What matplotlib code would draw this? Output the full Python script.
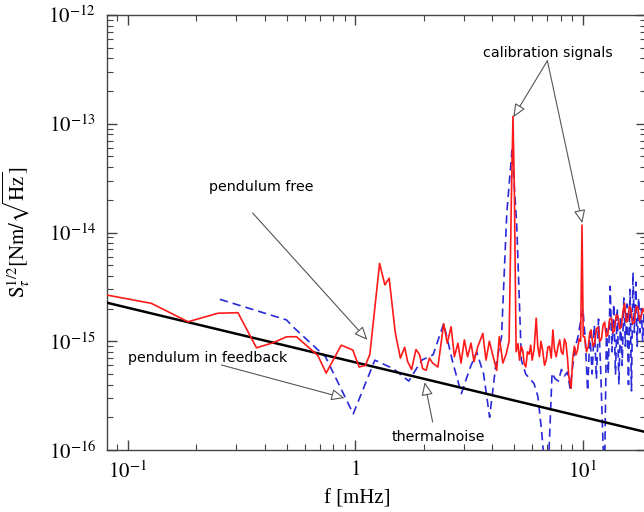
import numpy as np
import matplotlib
matplotlib.use("Agg")
import matplotlib.pyplot as plt
from matplotlib.ticker import LogLocator, NullFormatter

# pendulum free (red, solid)
red_f = [0.081, 0.127, 0.184, 0.249, 0.305, 0.368, 0.436, 0.499, 0.552, 0.685,
         0.745, 0.868, 0.976, 1.04, 1.11, 1.16, 1.28, 1.35, 1.41, 1.50,
         1.58, 1.65, 1.70, 1.77, 1.85, 1.92, 1.98, 2.05, 2.12, 2.19,
         2.31, 2.45, 2.54, 2.64, 2.73, 2.83, 2.92, 3.02, 3.12, 3.23,
         3.33, 3.46, 3.64, 3.76, 3.89, 4.03, 4.19, 4.30, 4.46, 4.61,
         4.75, 4.86, 4.94, 5.01, 5.10, 5.20, 5.28, 5.37, 5.45, 5.54,
         5.63, 5.72, 5.82, 5.91, 6.00, 6.12, 6.25, 6.35, 6.46, 6.56,
         6.67, 6.80, 6.92, 7.03, 7.15, 7.28, 7.40, 7.52, 7.65, 7.80,
         7.93, 8.06, 8.20, 8.32, 8.45, 8.58, 8.70, 8.90, 9.05, 9.20,
         9.35, 9.50, 9.65, 9.80, 9.94, 10.06, 10.2, 10.4, 10.6, 10.75,
         10.9, 11.1, 11.3, 11.5, 11.7, 11.9, 12.1, 12.3, 12.5, 12.7,
         12.9, 13.15, 13.4, 13.6, 13.8, 14.05, 14.3, 14.55, 14.8, 15.05,
         15.3, 15.55, 15.8, 16.05, 16.3, 16.6, 16.9, 17.2, 17.5, 17.8,
         18.1, 18.4, 18.7, 19.0]
red_s = [2.66e-15, 2.23e-15, 1.51e-15, 1.81e-15, 1.83e-15, 8.7e-16, 9.7e-16, 1.10e-15, 1.10e-15, 7.4e-16,
         5.1e-16, 9.2e-16, 8.3e-16, 5.8e-16, 6.0e-16, 7.6e-16, 5.2e-15, 3.3e-15, 3.8e-15, 1.2e-15,
         7.0e-16, 8.8e-16, 6.5e-16, 5.5e-16, 8.4e-16, 7.5e-16, 5.6e-16, 5.4e-16, 7.0e-16, 6.3e-16,
         5.8e-16, 1.45e-15, 9.6e-16, 1.36e-15, 7.2e-16, 9.6e-16, 6.3e-16, 1.03e-15, 7.2e-16, 9.6e-16,
         6.5e-16, 8.9e-16, 1.18e-15, 6.7e-16, 1.0e-15, 7.4e-16, 5.4e-16, 1.10e-15, 6.3e-16, 7.6e-16,
         1.0e-15, 2.0e-14, 1.17e-13, 2.5e-14, 8.0e-16, 9.5e-16, 6.7e-16, 9.0e-16, 8.3e-16, 6.2e-16,
         5.8e-16, 8.0e-16, 7.6e-16, 9.2e-16, 6.7e-16, 8.5e-16, 1.63e-15, 9.0e-16, 7.2e-16, 1.0e-15,
         8.3e-16, 6.0e-16, 6.7e-16, 8.8e-16, 9.0e-16, 7.0e-16, 1.27e-15, 8.5e-16, 7.2e-16, 9.0e-16,
         1.03e-15, 8.0e-16, 7.6e-16, 1.05e-15, 9.6e-16, 7.0e-16, 4.7e-16, 3.7e-16, 7.0e-16, 9.0e-16,
         7.5e-16, 8.3e-16, 1.05e-15, 1.0e-15, 1.17e-14, 1.1e-15, 1.1e-15, 8.0e-16, 9.0e-16, 1.2e-15,
         1.27e-15, 9.0e-16, 9.6e-16, 1.3e-15, 1.35e-15, 1.0e-15, 1.05e-15, 1.4e-15, 1.5e-15, 1.1e-15,
         1.15e-15, 1.6e-15, 1.63e-15, 1.2e-15, 1.25e-15, 1.75e-15, 1.7e-15, 1.3e-15, 1.35e-15, 1.9e-15,
         2.23e-15, 1.5e-15, 1.55e-15, 2.1e-15, 2.0e-15, 1.45e-15, 1.5e-15, 2.1e-15, 2.05e-15, 1.55e-15,
         1.7e-15, 2.0e-15, 1.85e-15, 1.9e-15]

# pendulum in feedback (blue, dashed)
blue_f = [0.254, 0.499, 0.532, 0.74, 0.98, 1.22, 1.47, 1.72, 1.96, 2.20,
          2.45, 2.69, 2.93, 3.18, 3.42, 3.67, 3.90, 4.15, 4.40, 4.64,
          4.89, 5.13, 5.38, 5.62, 5.87, 6.11, 6.36, 6.60, 6.85, 7.09,
          7.34, 7.58, 7.83, 8.07, 8.32, 8.56, 8.81, 9.05, 9.30, 9.54,
          9.79, 10.03, 10.28, 10.52, 10.77, 11.01, 11.26, 11.50, 11.75, 11.99,
          12.24, 12.48, 12.73, 12.97, 13.22, 13.46, 13.71, 13.95, 14.20, 14.44,
          14.69, 14.93, 15.18, 15.42, 15.67, 15.91, 16.16, 16.40, 16.65, 16.89,
          17.14, 17.38, 17.63, 17.87, 18.12, 18.36, 18.61, 18.85]
blue_s = [2.43e-15, 1.57e-15, 1.36e-15, 7.2e-16, 2.15e-16, 6.7e-16, 5.6e-16, 4.3e-16, 6.7e-16, 7.5e-16,
          1.45e-15, 6.3e-16, 3.3e-16, 5.5e-16, 8.0e-16, 5.0e-16, 2.0e-16, 6.0e-16, 1.1e-15, 1.5e-14,
          5.7e-14, 1.2e-14, 6.7e-16, 5.0e-16, 4.5e-16, 4.1e-16, 3.1e-16, 1.5e-16, 6.0e-17, 8.0e-17,
          5.1e-16, 4.5e-16, 4.3e-16, 5.5e-16, 4.8e-16, 5.2e-16, 3.7e-16, 6.0e-16, 9.0e-16, 1.1e-15,
          1.5e-15, 2.0e-15, 1.0e-15, 3.5e-16, 1.2e-15, 5.0e-16, 1.4e-15, 4.5e-16, 1.6e-15, 6.0e-16,
          1.5e-16, 5.0e-17, 1.3e-15, 5.0e-16, 3.2e-15, 8.0e-16, 2.2e-15, 5.0e-16, 2.0e-15, 4.0e-16,
          1.7e-15, 6.0e-16, 2.5e-15, 9.0e-16, 2.2e-15, 4.0e-16, 3.0e-15, 3.5e-16, 4.3e-15, 1.2e-15,
          3.5e-15, 9.0e-16, 2.5e-15, 1.2e-15, 2.0e-15, 1.0e-15, 1.8e-15, 1.2e-15]

# thermal noise (black straight line on log-log axes)
thermal_f = [0.081, 19.0]
thermal_s = [2.26e-15, 1.46e-16]

y_ticks = [1e-16, 1e-15, 1e-14, 1e-13, 1e-12]
y_labels = [r'$10^{-16}$', r'$10^{-15}$', r'$10^{-14}$', r'$10^{-13}$', r'$10^{-12}$']
x_ticks = [0.1, 1, 10]
x_labels = [r'$10^{-1}$', r'$1$', r'$10^{1}$']

plt.rcParams['font.family'] = ['Liberation Serif', 'DejaVu Serif']
plt.rcParams['mathtext.fontset'] = 'stix'

W, H = 644, 512
fig = plt.figure(figsize=(W / 100, H / 100), dpi=100)
ax = fig.add_axes([107 / W, 1 - 450 / H, (646 - 107) / W, (450 - 15) / H])

ax.plot(thermal_f, thermal_s, color='black', lw=1.8, zorder=3)
ax.plot(blue_f, blue_s, color='#2a2ad8', lw=1.2, ls=(0, (5, 3)), zorder=2)
ax.plot(red_f, red_s, color='#ff1a1a', lw=1.2, zorder=4)

ax.set_xscale('log')
ax.set_yscale('log')
ax.set_xlim(0.081, 19.0)
ax.set_ylim(1e-16, 1e-12)

ax.set_xticks(x_ticks)
ax.set_xticklabels(x_labels)
ax.set_yticks(y_ticks)
ax.set_yticklabels(y_labels)
ax.xaxis.set_minor_locator(LogLocator(base=10, subs=np.arange(2, 10), numticks=20))
ax.xaxis.set_minor_formatter(NullFormatter())
ax.yaxis.set_minor_locator(LogLocator(base=10, subs=np.arange(2, 10), numticks=20))
ax.yaxis.set_minor_formatter(NullFormatter())

ax.tick_params(which='both', direction='in', top=True, right=True, color='#444444')
ax.tick_params(which='major', length=7, width=1, labelsize=15, pad=8)
ax.tick_params(which='minor', length=4, width=0.8)
for sp in ax.spines.values():
    sp.set_color('#444444')
    sp.set_linewidth(1.0)

ax.set_xlabel('f [mHz]', fontsize=15)
ax.xaxis.set_label_coords((357 - 107) / (646 - 107), -0.09)
ax.set_ylabel(r'$\mathrm{S}_\tau^{1/2}[\mathrm{Nm}/\sqrt{\mathrm{Hz}}]$', fontsize=15)
ax.yaxis.set_label_coords(-0.14, 0.5)

# annotations
sans = ['DejaVu Sans']
fs = 10.3
arrow = dict(arrowstyle='-|>,head_length=0.8,head_width=0.35', fc='white', ec='#555555', lw=0.8,
             shrinkA=0, shrinkB=0)

ax.text(7.0, 4.5e-13, 'calibration signals', family=sans, fontsize=fs, ha='center', va='center')
ax.annotate('', xy=(4.96, 1.15e-13), xytext=(7.0, 3.8e-13), arrowprops=arrow)
ax.annotate('', xy=(9.97, 1.22e-14), xytext=(7.0, 3.8e-13), arrowprops=arrow)

ax.text(0.387, 2.62e-14, 'pendulum free', family=sans, fontsize=fs, ha='center', va='center')
ax.annotate('', xy=(1.13, 1.03e-15), xytext=(0.354, 1.51e-14), arrowprops=arrow)

ax.text(0.225, 7.0e-16, 'pendulum in feedback', family=sans, fontsize=fs, ha='center', va='center')
ax.annotate('', xy=(0.897, 3.0e-16), xytext=(0.258, 6.05e-16), arrowprops=arrow)

ax.text(2.33, 1.32e-16, 'thermalnoise', family=sans, fontsize=fs, ha='center', va='center')
ax.annotate('', xy=(2.02, 4.2e-16), xytext=(2.19, 1.81e-16), arrowprops=arrow)

fig.savefig('out.png', dpi=100)
